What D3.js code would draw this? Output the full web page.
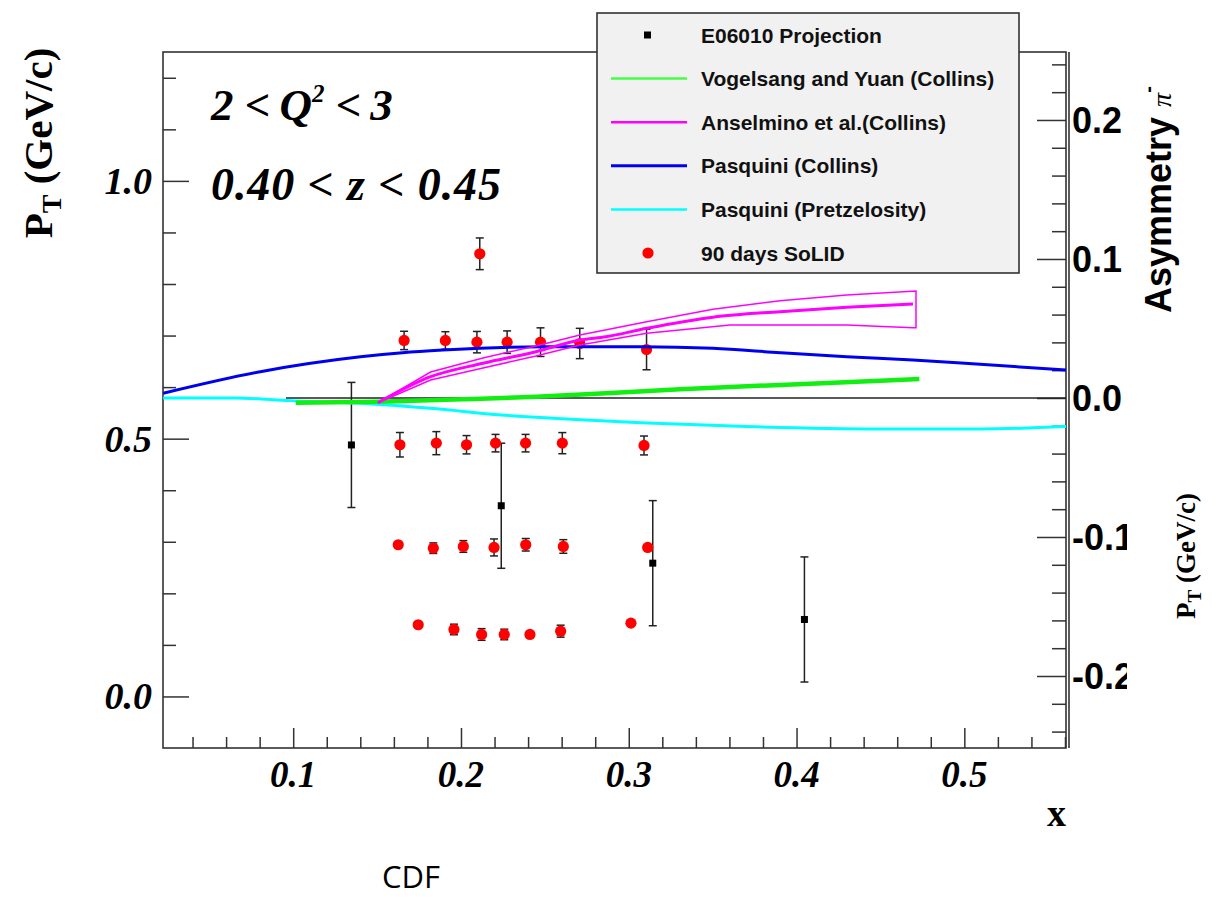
<!DOCTYPE html>
<html><head><meta charset="utf-8">
<script src="https://cdn.jsdelivr.net/npm/d3@7"></script>
<style>html,body{margin:0;padding:0;background:#fff;}svg{display:block;}</style>
</head><body>
<svg id="c" width="1214" height="900"></svg>
<script>
// ---------------- data ----------------
// SoLID 90 days projections: x, P_T (GeV/c), asymmetry error
const solidX   = [0.2112,
  0.1661,0.1907,0.2095,0.2275,0.2474,0.2708,0.3106,
  0.1636,0.1853,0.2033,0.2206,0.2385,0.2604,0.3091,
  0.1626,0.1835,0.2014,0.2197,0.2386,0.2610,0.3113,
  0.1745,0.1958,0.2123,0.2258,0.2411,0.2594,0.3013];
const solidPT  = [0.8586,
  0.6905,0.6905,0.6872,0.6872,0.6872,0.6846,0.6730,
  0.4882,0.4913,0.4882,0.4913,0.4913,0.4913,0.4868,
  0.2942,0.2876,0.2909,0.2890,0.2942,0.2909,0.2890,
  0.1391,0.1299,0.1202,0.1202,0.1202,0.1266,0.1422];
const solidErr = [0.0114,
  0.0066,0.0063,0.0077,0.0081,0.0103,0.0109,0.0146,
  0.0088,0.0083,0.0066,0.0063,0.0063,0.0076,0.0068,
  0,0.0038,0.0042,0.0061,0.0045,0.0049,0,
  0,0.0038,0.0042,0.0038,0,0.0043,0];
// E06010 projection
const e06X   = [0.1347,0.2240,0.3143,0.4047];
const e06PT  = [0.4878,0.3699,0.2585,0.1493];
const e06Err = [0.045,0.045,0.045,0.045];
// Model curves: asymmetry vs x
const vyX = [0.1015,0.1505,0.2029,0.2447,0.2864,0.3305,0.3902,0.4498,0.4732];
const vyA = [-0.0034,-0.0027,-0.0009,0.0009,0.0034,0.0063,0.0094,0.0124,0.0137];
const anX  = [0.1505,0.1819,0.2131,0.2447,0.2709,0.2864,0.3107,0.3502,0.3902,0.4299,0.4694];
const anA  = [-0.0034,0.0153,0.0250,0.0333,0.0417,0.0441,0.0501,0.0581,0.0621,0.0653,0.0676];
const anHiX = [0.1505,0.1819,0.2131,0.2447,0.2709,0.3107,0.3502,0.3902,0.4299,0.4712];
const anHi  = [-0.0034,0.0187,0.0288,0.0374,0.0453,0.0549,0.0638,0.0700,0.0741,0.0770];
const anLoX = [0.1505,0.1819,0.2131,0.2447,0.2709,0.3107,0.3603,0.4299,0.4694,0.4712];
const anLo  = [-0.0034,0.0129,0.0216,0.0302,0.0381,0.0465,0.0525,0.0525,0.0506,0.0506];
const pcX = [0.0225,0.0804,0.1401,0.1652,0.1892,0.2112,0.2489,0.3073,0.3502,0.3902,0.4299,0.4694,0.5094,0.5606];
const pcA = [0.0034,0.0189,0.0296,0.0326,0.0345,0.0358,0.0369,0.0369,0.0358,0.0326,0.0297,0.0273,0.0242,0.0201];
const ppX = [0.0225,0.0650,0.0984,0.1401,0.1819,0.2240,0.2657,0.3073,0.3700,0.4498,0.5094,0.5606];
const ppA = [0.0000,0.0000,-0.0019,-0.0038,-0.0074,-0.0122,-0.0153,-0.0178,-0.0206,-0.0223,-0.0223,-0.0206];
const zeroX = [0.0957,0.5606];
// Axis ticks
const xMajor = [0.1,0.2,0.3,0.4,0.5];
const yLMajor = [0.0,0.5,1.0];
const yRMajor = [-0.2,-0.1,0.0,0.1,0.2];
const legendLabels = ["E06010 Projection","Vogelsang and Yuan (Collins)","Anselmino et al.(Collins)","Pasquini (Collins)","Pasquini (Pretzelosity)","90 days SoLID"];

// ---------------- layout ----------------
const L=163, R=1066, T=52, B=748;
const svg = d3.select("#c");
const x  = d3.scaleLinear().domain([0.0224,0.5606]).range([L,R]);
const yL = d3.scaleLinear().domain([-0.1,1.25]).range([B,T]);
const yR = d3.scaleLinear().domain([-0.2518,0.2489]).range([B,T]);
const serif = "'Liberation Serif','Times New Roman',serif";
const sans  = "'Liberation Sans',Arial,Helvetica,sans-serif";
const axCol = "#333";

// frame
svg.append("rect").attr("x",L).attr("y",T).attr("width",R-L).attr("height",B-T)
  .attr("fill","#fff").attr("stroke",axCol).attr("stroke-width",1.6);
svg.append("line").attr("x1",R+3).attr("x2",R+3).attr("y1",T).attr("y2",B).attr("stroke",axCol).attr("stroke-width",1.6);

// bottom axis ticks (inside)
const xTicks = d3.range(0.04,0.5601,0.02).map(v=>+v.toFixed(2));
const gx = svg.append("g").attr("transform",`translate(0,${B})`)
  .call(d3.axisBottom(x).tickValues(xTicks).tickSizeInner(0).tickSizeOuter(0).tickFormat(""));
gx.select(".domain").remove();
gx.selectAll(".tick line").attr("y2",d=>xMajor.some(m=>Math.abs(m-d)<1e-6)?-20:-11).attr("stroke",axCol).attr("stroke-width",1.5);
svg.selectAll(".xlab").data(xMajor).enter().append("text")
  .attr("x",d=>x(d)).attr("y",B+39).attr("text-anchor","middle")
  .style("font-family",serif).style("font-weight","bold").style("font-style","italic").style("font-size","37px")
  .text(d=>d3.format(".1f")(d));

// left axis ticks
const yLTicks = d3.range(0,1.2001,0.1).map(v=>+v.toFixed(1));
const gyl = svg.append("g").attr("transform",`translate(${L},0)`)
  .call(d3.axisLeft(yL).tickValues(yLTicks).tickSizeOuter(0).tickFormat(""));
gyl.select(".domain").remove();
gyl.selectAll(".tick line").attr("x2",d=>yLMajor.some(m=>Math.abs(m-d)<1e-6)?26:13).attr("stroke",axCol).attr("stroke-width",1.5);
svg.selectAll(".ylab").data(yLMajor).enter().append("text")
  .attr("x",L-11).attr("y",d=>yL(d)+13).attr("text-anchor","end")
  .style("font-family",serif).style("font-weight","bold").style("font-style","italic").style("font-size","38px")
  .text(d=>d3.format(".1f")(d));

// right axis ticks
const yRTicks = d3.range(-0.24,0.2401,0.02).map(v=>+v.toFixed(2));
const gyr = svg.append("g").attr("transform",`translate(${R},0)`)
  .call(d3.axisRight(yR).tickValues(yRTicks).tickSizeOuter(0).tickFormat(""));
gyr.select(".domain").remove();
gyr.selectAll(".tick line").attr("x2",d=>yRMajor.some(m=>Math.abs(m-d)<1e-6)?-29:-14).attr("stroke",axCol).attr("stroke-width",1.5);
svg.append("clipPath").attr("id","rclip").append("rect").attr("x",R).attr("y",0).attr("width",1127-R).attr("height",900);
svg.append("g").attr("clip-path","url(#rclip)").selectAll("text").data(yRMajor).enter().append("text")
  .attr("x",R+6).attr("y",d=>yR(d)+13).attr("text-anchor","start")
  .style("font-family",sans).style("font-weight","bold").style("font-size","36px")
  .text(d=>d3.format(".1f")(d).replace("−","-"));

// axis titles
const lt = svg.append("text").attr("transform","translate(52,143) rotate(-90)").attr("text-anchor","middle")
  .style("font-family",serif).style("font-weight","bold").style("font-size","41px");
lt.append("tspan").text("P");
lt.append("tspan").attr("dy",9).style("font-size","28px").text("T");
lt.append("tspan").attr("dy",-9).text(" (GeV/c)");

const rt = svg.append("text").attr("transform","translate(1195,556) rotate(-90)").attr("text-anchor","middle")
  .style("font-family",serif).style("font-weight","bold").style("font-size","27px");
rt.append("tspan").text("P");
rt.append("tspan").attr("dy",6).style("font-size","19px").text("T");
rt.append("tspan").attr("dy",-6).text(" (GeV/c)");

const at = svg.append("text").attr("transform","translate(1171,313) rotate(-90)").attr("text-anchor","start")
  .style("font-family",sans).style("font-weight","bold").style("font-size","36px");
at.append("tspan").text("Asymmetry ");
at.append("tspan").style("font-family",serif).style("font-weight","normal").style("font-style","italic").style("font-size","28px").text("π");
at.append("tspan").attr("dy",-16).style("font-size","20px").text("-");

svg.append("text").attr("x",R).attr("y",826).attr("text-anchor","end")
  .style("font-family",serif).style("font-weight","bold").style("font-size","38px").text("x");

// annotations
const q = svg.append("text").attr("x",211).attr("y",120)
  .style("font-family",serif).style("font-weight","bold").style("font-style","italic").style("font-size","45px");
q.append("tspan").text("2 <\u2009Q");
q.append("tspan").attr("dy",-18).style("font-size","25px").text("2");
q.append("tspan").attr("dy",18).text(" <\u20093");
svg.append("text").attr("x",211).attr("y",200)
  .style("font-family",serif).style("font-weight","bold").style("font-style","italic").style("font-size","46px")
  .attr("textLength",290).attr("lengthAdjust","spacing")
  .text("0.40 < z < 0.45");

svg.append("text").attr("x",411).attr("y",888).attr("text-anchor","middle")
  .style("font-family","'Open Sans','Noto Sans',sans-serif").style("font-size","31px").text("CDF");

// zero line
svg.append("line").attr("x1",x(zeroX[0])).attr("x2",x(zeroX[1])).attr("y1",yR(0)).attr("y2",yR(0))
  .attr("stroke","#222").attr("stroke-width",1.5);

// points
function errBars(g, xs, ys, errs, cap){
  xs.forEach((xv,i)=>{
    if(!errs[i]) return;
    const cx=x(xv), cy=yL(ys[i]), h=yR(0)-yR(errs[i]);
    g.append("line").attr("x1",cx).attr("x2",cx).attr("y1",cy-h).attr("y2",cy+h).attr("stroke","#222").attr("stroke-width",1.5);
    g.append("line").attr("x1",cx-cap).attr("x2",cx+cap).attr("y1",cy-h).attr("y2",cy-h).attr("stroke","#222").attr("stroke-width",1.5);
    g.append("line").attr("x1",cx-cap).attr("x2",cx+cap).attr("y1",cy+h).attr("y2",cy+h).attr("stroke","#222").attr("stroke-width",1.5);
  });
}
const pg = svg.append("g");
errBars(pg, e06X, e06PT, e06Err, 4);
errBars(pg, solidX, solidPT, solidErr, 4);
pg.selectAll("rect.e06").data(e06X).enter().append("rect")
  .attr("x",(d)=>x(d)-3.5).attr("y",(d,i)=>yL(e06PT[i])-3.5).attr("width",7).attr("height",7).attr("fill","#000");
pg.selectAll("circle.sol").data(solidX).enter().append("circle")
  .attr("cx",d=>x(d)).attr("cy",(d,i)=>yL(solidPT[i])).attr("r",5.6).attr("fill","#ff0000");

// curves
const line = d3.line().x(d=>x(d[0])).y(d=>yR(d[1])).curve(d3.curveMonotoneX);
const zip = (a,b)=>a.map((v,i)=>[v,b[i]]);
svg.append("path").attr("d",line(zip(ppX,ppA))).attr("fill","none").attr("stroke","#00ffff").attr("stroke-width",3);
svg.append("path").attr("d",line(zip(pcX,pcA))).attr("fill","none").attr("stroke","#0000f0").attr("stroke-width",3);
svg.append("path").attr("d",line(zip(vyX,vyA))).attr("fill","none").attr("stroke","#11ee11").attr("stroke-width",4.5);
svg.append("path").attr("d",d3.line().x(d=>x(d[0])).y(d=>yR(d[1]))(zip(anHiX,anHi).concat(zip(anLoX,anLo).reverse())))
  .attr("fill","none").attr("stroke","#ff00ff").attr("stroke-width",1.5);
svg.append("path").attr("d",line(zip(anX,anA))).attr("fill","none").attr("stroke","#ff00ff").attr("stroke-width",3);

// legend
const lg = svg.append("g");
lg.append("rect").attr("x",597).attr("y",13).attr("width",422).attr("height",260)
  .attr("fill","#f1f1f1").attr("stroke","#333").attr("stroke-width",1.6);
const ly = d3.scalePoint().domain(legendLabels).range([35,253]);
const lcol = [null,"#44ff44","#ff00ff","#0000f0","#00ffff",null];
legendLabels.forEach((lab,i)=>{
  const yy = ly(lab);
  if(i===0) lg.append("rect").attr("x",644).attr("y",yy-3.5).attr("width",7).attr("height",7).attr("fill","#000");
  else if(i===5) lg.append("circle").attr("cx",648).attr("cy",yy).attr("r",5.6).attr("fill","#ff0000");
  else lg.append("line").attr("x1",611).attr("x2",687).attr("y1",yy).attr("y2",yy).attr("stroke",lcol[i]).attr("stroke-width",i===3?3:2.5);
  lg.append("text").attr("x",701).attr("y",yy+7.5)
    .style("font-family",sans).style("font-weight","bold").style("font-size","21px").attr("fill","#111").text(lab);
});
</script>
</body></html>
